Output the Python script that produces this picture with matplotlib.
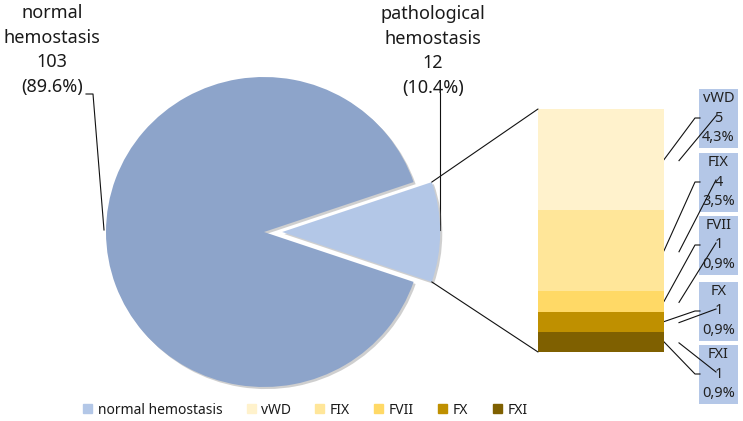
import numpy as np
import matplotlib.pyplot as plt
import matplotlib.patheffects as pe
from matplotlib.patches import Patch, Rectangle, ConnectionPatch

plt.rcParams['font.family'] = ['Noto Sans', 'DejaVu Sans']

# main pie
main_labels = ['normal hemostasis', 'pathological hemostasis']
main_counts = [103, 12]
main_pcts = ['(89.6%)', '(10.4%)']
main_colors = ['#8DA4CA', '#B3C7E7']
legend_main_color = '#B3C7E7'

# breakdown of pathological
sub_labels = ['vWD', 'FIX', 'FVII', 'FX', 'FXI']
sub_counts = [5, 4, 1, 1, 1]
sub_pcts = ['4,3%', '3,5%', '0,9%', '0,9%', '0,9%']
sub_colors = ['#FFF2CC', '#FFE699', '#FFD966', '#BF9000', '#7F6000']

W, H = 743, 421
fig = plt.figure(figsize=(W / 100, H / 100), dpi=100)

# overlay in pixel coordinates (labels, boxes, leaders)
ov = fig.add_axes([0, 0, 1, 1])
ov.set_xlim(0, W)
ov.set_ylim(H, 0)
ov.axis('off')

shadow = [pe.SimplePatchShadow(offset=(1.5, -1.5), shadow_rgbFace='#777777', alpha=0.35), pe.Normal()]

# pie axes (slightly wider than tall, like the source)
Rx, Ry = 158, 155
cx, cy = 264, 232
ax_pie = fig.add_axes([(cx - 1.25 * Rx) / W, (H - cy - 1.25 * Ry) / H, 2.5 * Rx / W, 2.5 * Ry / H])
total = sum(main_counts)
start = 180.0 * main_counts[1] / total
wedges, _ = ax_pie.pie(main_counts, colors=main_colors, startangle=start,
                       explode=[0, 0.115], counterclock=True,
                       wedgeprops=dict(linewidth=0))
for wd in wedges:
    wd.set_path_effects(shadow)
ax_pie.set_xlim(-1.25, 1.25)
ax_pie.set_ylim(-1.25, 1.25)
ax_pie.set_aspect('auto')
ax_pie.axis('off')

# bar axes
bx0, bx1, by0, by1 = 538, 664, 109, 352
ax_bar = fig.add_axes([bx0 / W, (H - by1) / H, (bx1 - bx0) / W, (by1 - by0) / H])
sub_total = sum(sub_counts)
bottoms = sub_total - np.cumsum(sub_counts)
bars = ax_bar.bar(0, sub_counts, bottom=bottoms, width=1, color=sub_colors, linewidth=0)
for b in bars:
    b.set_path_effects(shadow)
ax_bar.set_xlim(-0.5, 0.5)
ax_bar.set_ylim(0, sub_total)
ax_bar.axis('off')

# connectors pie -> bar
w = wedges[1]
c = np.array(w.center)
up = c + w.r * np.array([np.cos(np.radians(w.theta2)), np.sin(np.radians(w.theta2))])
lo = c + w.r * np.array([np.cos(np.radians(w.theta1)), np.sin(np.radians(w.theta1))])
for pA, pB in [(up, (-0.5, sub_total)), (lo, (-0.5, 0))]:
    con = ConnectionPatch(xyA=pA, coordsA=ax_pie.transData, xyB=pB, coordsB=ax_bar.transData,
                          color='#111111', lw=0.8)
    fig.add_artist(con)

# label boxes on the right
box_cy = [118, 182, 245, 311, 374]
box_x0, box_w, box_h = 699, 39, 59
to_ov = ov.transData.inverted()
for i in range(len(sub_labels)):
    ov.add_patch(Rectangle((box_x0, box_cy[i] - box_h / 2), box_w, box_h,
                           facecolor='#B4C7E7', edgecolor='none', zorder=2))
    ov.text(box_x0 + box_w / 2, box_cy[i], '%s\n%d\n%s' % (sub_labels[i], sub_counts[i], sub_pcts[i]),
            ha='center', va='center', fontsize=10.5, color='#222222', linespacing=1.42, zorder=4)
    mid = bottoms[i] + sub_counts[i] / 2
    px, py = to_ov.transform(ax_bar.transData.transform((0.5, mid)))
    ov.plot([px, 695, 700], [py, box_cy[i], box_cy[i]], color='#111111', lw=0.8, zorder=3)
    ov.plot([px + 15, 716], [py + 1, box_cy[i] - 2], color='#111111', lw=0.8, zorder=3)

# main labels
ov.text(52, 50, 'normal\nhemostasis\n%d\n%s' % (main_counts[0], main_pcts[0]),
        ha='center', va='center', fontsize=13, color='#1a1a1a', linespacing=1.48)
ov.text(433, 51, 'pathological\nhemostasis\n%d\n%s' % (main_counts[1], main_pcts[1]),
        ha='center', va='center', fontsize=13, color='#1a1a1a', linespacing=1.48)
ov.plot([86, 93, 104], [94, 94, 230], color='#111111', lw=0.8)
ov.plot([440, 440], [93, 230], color='#111111', lw=0.8)

# legend
handles = [Patch(color=legend_main_color, label=main_labels[0])]
handles += [Patch(color=sub_colors[i], label=sub_labels[i]) for i in range(len(sub_labels))]
fig.legend(handles=handles, loc='center left', bbox_to_anchor=(83 / W, (H - 410) / H),
           ncol=6, frameon=False, fontsize=10, handlelength=0.65, handleheight=0.65,
           handletextpad=0.4, columnspacing=1.75, borderpad=0, borderaxespad=0,
           labelcolor='#1a1a1a')

fig.savefig('out.png', dpi=100)
